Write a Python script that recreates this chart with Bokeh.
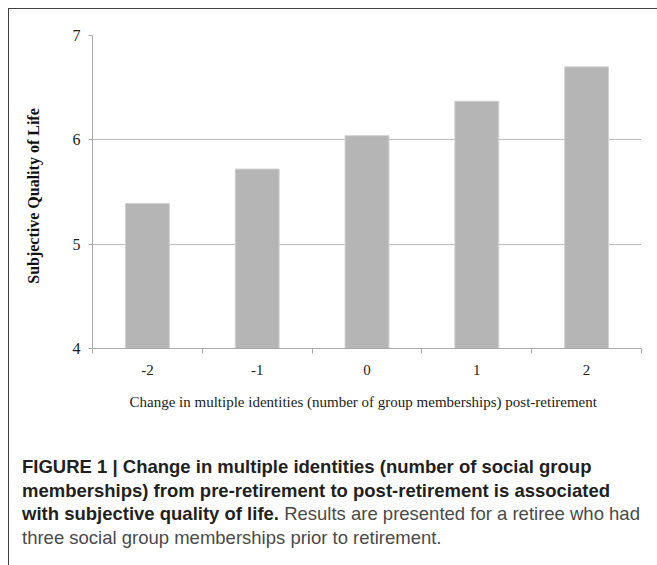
from bokeh.plotting import figure
from bokeh.models import Range1d, FixedTicker, Div, ColumnDataSource
from bokeh.layouts import column
from bokeh.embed import file_html
from bokeh.resources import INLINE

# ---- data ----
changes = [-2, -1, 0, 1, 2]
quality = [5.39, 5.72, 6.04, 6.37, 6.70]
tick_labels = ["-2", "-1", "0", "1", "2"]
y_ticks = [4, 5, 6, 7]
boundaries = [-2.5, -1.5, -0.5, 0.5, 1.5, 2.5]

x_title = "Change in multiple  identities  (number of group memberships) post-retirement"
y_title = "Subjective  Quality  of Life"

src = ColumnDataSource(dict(x=changes, top=quality))

p = figure(width=649, height=415,
           x_range=Range1d(-2.5, 2.5), y_range=Range1d(4, 7),
           output_backend="svg", toolbar_location=None,
           min_border_left=83, min_border_right=16,
           min_border_top=26, min_border_bottom=76)
p.outline_line_color = None
p.background_fill_color = "white"
p.border_fill_color = "white"

p.vbar(x="x", top="top", bottom=4, width=0.4, source=src,
       fill_color="#b5b5b5", line_color="#d2d2d2", line_width=1)

serif = "Liberation Serif"

xa = p.xaxis[0]
xa.ticker = FixedTicker(ticks=changes, minor_ticks=boundaries)
xa.major_label_overrides = dict(zip(changes, tick_labels))
xa.major_tick_out = 0
xa.major_tick_in = 0
xa.minor_tick_out = 5
xa.minor_tick_in = 0
xa.minor_tick_line_color = "#a8a8a8"
xa.axis_line_color = "#a8a8a8"
xa.major_label_text_font = serif
xa.major_label_text_font_size = "15px"
xa.major_label_text_color = "#222222"
xa.major_label_standoff = 11
xa.axis_label = x_title
xa.axis_label_text_font = serif
xa.axis_label_text_font_style = "normal"
xa.axis_label_text_font_size = "15px"
xa.axis_label_text_color = "#222222"
xa.axis_label_standoff = 16

ya = p.yaxis[0]
ya.ticker = FixedTicker(ticks=y_ticks, minor_ticks=[])
ya.major_tick_out = 4
ya.major_tick_in = 0
ya.major_tick_line_color = "#a8a8a8"
ya.axis_line_color = "#a8a8a8"
ya.major_label_text_font = serif
ya.major_label_text_font_size = "16px"
ya.major_label_text_color = "#222222"
ya.major_label_standoff = 8
ya.axis_label = y_title
ya.axis_label_text_font = serif
ya.axis_label_text_font_style = "bold"
ya.axis_label_text_font_size = "16px"
ya.axis_label_text_color = "#111111"
ya.axis_label_standoff = 28

p.xgrid.grid_line_color = None
p.ygrid.grid_line_color = "#bdbdbd"
p.ygrid.grid_line_width = 1

caption_html = (
    '<span style="font-weight:bold;color:#231f20">FIGURE 1 | Change in multiple identities '
    '(number of social group<br>memberships) from pre-retirement to post-retirement is '
    'associated<br>with subjective quality of life.</span> Results are presented for a '
    'retiree who had<br>three social group memberships prior to retirement.'
)
cap = Div(text=caption_html, width=630, height=120, margin=(31, 0, 0, 13),
          styles={"font-family": "Liberation Sans", "font-size": "18.5px",
                  "line-height": "23.5px", "color": "#4a4a4a",
                  "white-space": "nowrap"})

layout = column(p, cap, width=649, height=557, margin=(8, 0, 0, 8),
                styles={"border-top": "1px solid #404040",
                        "border-left": "1px solid #404040"})

open("out.html", "w").write(file_html(layout, INLINE))
